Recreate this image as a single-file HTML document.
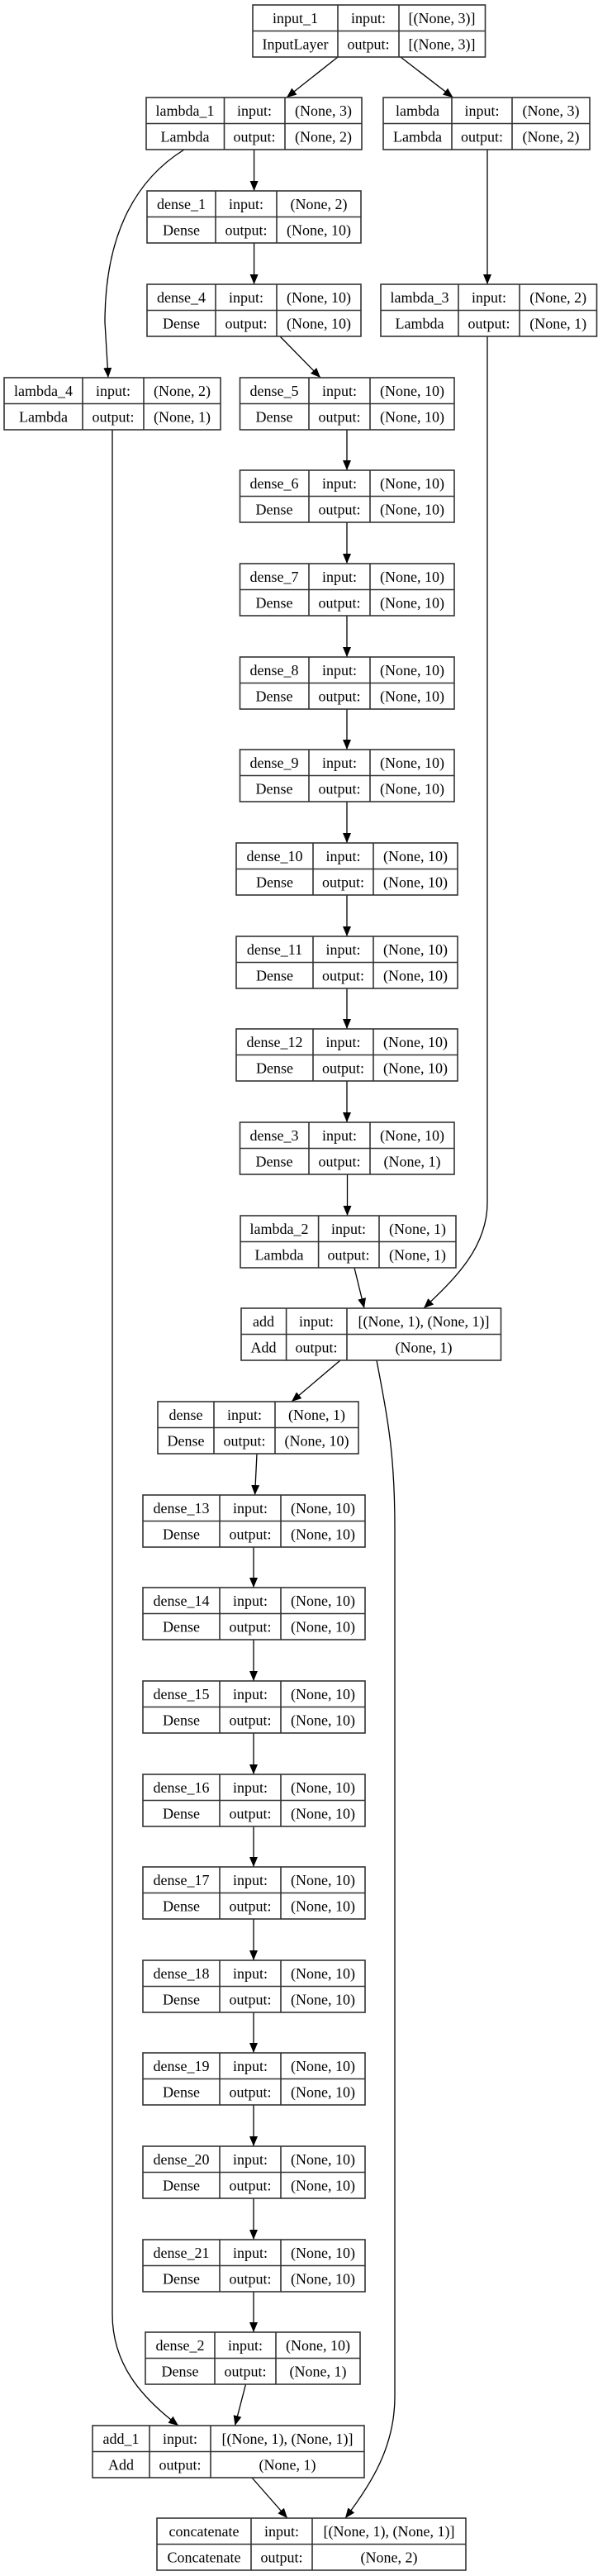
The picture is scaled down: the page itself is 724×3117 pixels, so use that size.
<!DOCTYPE html>
<html><head><meta charset="utf-8"><style>
html,body{margin:0;padding:0;background:#fff;}
svg{display:block;}
text{font-family:"Liberation Serif",serif;font-size:18px;text-anchor:middle;fill:#000;}
.b rect{fill:#fff;stroke:#333;stroke-width:1.6;}
.b path{stroke:#333;stroke-width:1.6;fill:none;}
.e{stroke:#000;stroke-width:1.3;fill:none;marker-end:url(#a);}
</style></head><body>
<svg width="724" height="3117" viewBox="0 0 724 3117" xmlns="http://www.w3.org/2000/svg">
<defs><marker id="a" markerWidth="12" markerHeight="10" refX="12" refY="5" orient="auto" markerUnits="userSpaceOnUse"><path d="M0,0 L12,5 L0,10z" fill="#000"/></marker></defs>

<!-- edges -->
<path class="e" d="M409,69 L347,118"/>
<path class="e" d="M485,69 L548.5,118"/>
<path class="e" d="M307.6,181 L307.6,231"/>
<path class="e" d="M223,181 C160,220 127,290 127,390 L131,457"/>
<path class="e" d="M307.6,294 L307.6,344"/>
<path class="e" d="M339,407 L388,457"/>
<path class="e" d="M590,181 L590,344"/>
<path class="e" d="M420,520 L420,569"/>
<path class="e" d="M420,632 L420,682"/>
<path class="e" d="M420,745 L420,795"/>
<path class="e" d="M420,858 L420,907"/>
<path class="e" d="M420,970 L420,1020"/>
<path class="e" d="M420,1083 L420,1133"/>
<path class="e" d="M420,1196 L420,1245"/>
<path class="e" d="M420,1308 L420,1358"/>
<path class="e" d="M420.5,1421 L420.5,1471"/>
<path class="e" d="M429,1534 L441,1583"/>
<path class="e" d="M590,407 L590,1455 C590,1510 550,1548 513,1583"/>
<path class="e" d="M412,1646 L353,1696"/>
<path class="e" d="M456,1646 C470,1720 478,1760 478,1850 L478,2900 C478,2960 450,3005 418,3047"/>
<path class="e" d="M136,520 L136,2800 C136,2860 170,2900 216,2935"/>
<path class="e" d="M311,1759 L308.6,1809"/>
<path class="e" d="M307,1872 L307,1921"/>
<path class="e" d="M307,1984 L307,2034"/>
<path class="e" d="M307,2097 L307,2147"/>
<path class="e" d="M307,2210 L307,2259"/>
<path class="e" d="M307,2322 L307,2372"/>
<path class="e" d="M307,2435 L307,2484"/>
<path class="e" d="M307,2547 L307,2597"/>
<path class="e" d="M307,2660 L307,2710"/>
<path class="e" d="M307,2773 L307,2822"/>
<path class="e" d="M297.5,2885 L284.5,2935"/>
<path class="e" d="M305,2998 L348,3047"/>

<!-- nodes -->
<g class="b"><rect x="306" y="6" width="281.5" height="63"/><path d="M306,37.5H587.5M409,6V69M483,6V69"/>
<text x="357.5" y="28">input_1</text><text x="357.5" y="59.5">InputLayer</text><text x="446" y="28">input:</text><text x="446" y="59.5">output:</text><text x="535" y="28">[(None, 3)]</text><text x="535" y="59.5">[(None, 3)]</text></g>

<g class="b"><rect x="177" y="118" width="261" height="63"/><path d="M177,149.5H438M271.5,118V181M345,118V181"/>
<text x="224" y="140">lambda_1</text><text x="224" y="171.5">Lambda</text><text x="308" y="140">input:</text><text x="308" y="171.5">output:</text><text x="391.5" y="140">(None, 3)</text><text x="391.5" y="171.5">(None, 2)</text></g>

<g class="b"><rect x="464" y="118" width="250" height="63"/><path d="M464,149.5H714M547,118V181M620,118V181"/>
<text x="505.5" y="140">lambda</text><text x="505.5" y="171.5">Lambda</text><text x="583.5" y="140">input:</text><text x="583.5" y="171.5">output:</text><text x="667" y="140">(None, 3)</text><text x="667" y="171.5">(None, 2)</text></g>

<g class="b"><rect x="178" y="231" width="259" height="63"/><path d="M178,262.5H437M261,231V294M335,231V294"/>
<text x="219.5" y="253">dense_1</text><text x="219.5" y="284.5">Dense</text><text x="298" y="253">input:</text><text x="298" y="284.5">output:</text><text x="386" y="253">(None, 2)</text><text x="386" y="284.5">(None, 10)</text></g>

<g class="b"><rect x="178" y="344" width="259" height="63"/><path d="M178,375.5H437M261,344V407M335,344V407"/>
<text x="219.5" y="366">dense_4</text><text x="219.5" y="397.5">Dense</text><text x="298" y="366">input:</text><text x="298" y="397.5">output:</text><text x="386" y="366">(None, 10)</text><text x="386" y="397.5">(None, 10)</text></g>

<g class="b"><rect x="461" y="344" width="261.5" height="63"/><path d="M461,375.5H722.5M555,344V407M629,344V407"/>
<text x="508" y="366">lambda_3</text><text x="508" y="397.5">Lambda</text><text x="592" y="366">input:</text><text x="592" y="397.5">output:</text><text x="675.7" y="366">(None, 2)</text><text x="675.7" y="397.5">(None, 1)</text></g>

<g class="b"><rect x="5" y="457" width="262" height="63"/><path d="M5,488.5H267M100,457V520M174,457V520"/>
<text x="52.5" y="479">lambda_4</text><text x="52.5" y="510.5">Lambda</text><text x="137" y="479">input:</text><text x="137" y="510.5">output:</text><text x="220.5" y="479">(None, 2)</text><text x="220.5" y="510.5">(None, 1)</text></g>

<g class="b"><rect x="290.5" y="457" width="259.5" height="63"/><path d="M290.5,488.5H550M374,457V520M448,457V520"/>
<text x="332" y="479">dense_5</text><text x="332" y="510.5">Dense</text><text x="411" y="479">input:</text><text x="411" y="510.5">output:</text><text x="499" y="479">(None, 10)</text><text x="499" y="510.5">(None, 10)</text></g>

<g class="b"><rect x="290.5" y="569" width="259.5" height="63"/><path d="M290.5,600.5H550M374,569V632M448,569V632"/>
<text x="332" y="591">dense_6</text><text x="332" y="622.5">Dense</text><text x="411" y="591">input:</text><text x="411" y="622.5">output:</text><text x="499" y="591">(None, 10)</text><text x="499" y="622.5">(None, 10)</text></g>

<g class="b"><rect x="290.5" y="682" width="259.5" height="63"/><path d="M290.5,713.5H550M374,682V745M448,682V745"/>
<text x="332" y="704">dense_7</text><text x="332" y="735.5">Dense</text><text x="411" y="704">input:</text><text x="411" y="735.5">output:</text><text x="499" y="704">(None, 10)</text><text x="499" y="735.5">(None, 10)</text></g>

<g class="b"><rect x="290.5" y="795" width="259.5" height="63"/><path d="M290.5,826.5H550M374,795V858M448,795V858"/>
<text x="332" y="817">dense_8</text><text x="332" y="848.5">Dense</text><text x="411" y="817">input:</text><text x="411" y="848.5">output:</text><text x="499" y="817">(None, 10)</text><text x="499" y="848.5">(None, 10)</text></g>

<g class="b"><rect x="290.5" y="907" width="259.5" height="63"/><path d="M290.5,938.5H550M374,907V970M448,907V970"/>
<text x="332" y="929">dense_9</text><text x="332" y="960.5">Dense</text><text x="411" y="929">input:</text><text x="411" y="960.5">output:</text><text x="499" y="929">(None, 10)</text><text x="499" y="960.5">(None, 10)</text></g>

<g class="b"><rect x="286" y="1020" width="268" height="63"/><path d="M286,1051.5H554M379,1020V1083M452,1020V1083"/>
<text x="332.5" y="1042">dense_10</text><text x="332.5" y="1073.5">Dense</text><text x="415.5" y="1042">input:</text><text x="415.5" y="1073.5">output:</text><text x="503" y="1042">(None, 10)</text><text x="503" y="1073.5">(None, 10)</text></g>

<g class="b"><rect x="286" y="1133" width="268" height="63"/><path d="M286,1164.5H554M379,1133V1196M452,1133V1196"/>
<text x="332.5" y="1155">dense_11</text><text x="332.5" y="1186.5">Dense</text><text x="415.5" y="1155">input:</text><text x="415.5" y="1186.5">output:</text><text x="503" y="1155">(None, 10)</text><text x="503" y="1186.5">(None, 10)</text></g>

<g class="b"><rect x="286" y="1245" width="268" height="63"/><path d="M286,1276.5H554M379,1245V1308M452,1245V1308"/>
<text x="332.5" y="1267">dense_12</text><text x="332.5" y="1298.5">Dense</text><text x="415.5" y="1267">input:</text><text x="415.5" y="1298.5">output:</text><text x="503" y="1267">(None, 10)</text><text x="503" y="1298.5">(None, 10)</text></g>

<g class="b"><rect x="290.5" y="1358" width="259.5" height="63"/><path d="M290.5,1389.5H550M374,1358V1421M448,1358V1421"/>
<text x="332" y="1380">dense_3</text><text x="332" y="1411.5">Dense</text><text x="411" y="1380">input:</text><text x="411" y="1411.5">output:</text><text x="499" y="1380">(None, 10)</text><text x="499" y="1411.5">(None, 1)</text></g>

<g class="b"><rect x="291" y="1471" width="261" height="63"/><path d="M291,1502.5H552M385.6,1471V1534M459,1471V1534"/>
<text x="338" y="1493">lambda_2</text><text x="338" y="1524.5">Lambda</text><text x="422" y="1493">input:</text><text x="422" y="1524.5">output:</text><text x="505.5" y="1493">(None, 1)</text><text x="505.5" y="1524.5">(None, 1)</text></g>

<g class="b"><rect x="292" y="1583" width="314.5" height="63"/><path d="M292,1614.5H606.5M346.6,1583V1646M420,1583V1646"/>
<text x="319" y="1605">add</text><text x="319" y="1636.5">Add</text><text x="383" y="1605">input:</text><text x="383" y="1636.5">output:</text><text x="513" y="1605">[(None, 1), (None, 1)]</text><text x="513" y="1636.5">(None, 1)</text></g>

<g class="b"><rect x="191" y="1696" width="243" height="63"/><path d="M191,1727.5H434M259,1696V1759M333,1696V1759"/>
<text x="225" y="1718">dense</text><text x="225" y="1749.5">Dense</text><text x="296" y="1718">input:</text><text x="296" y="1749.5">output:</text><text x="383.5" y="1718">(None, 1)</text><text x="383.5" y="1749.5">(None, 10)</text></g>

<g class="b"><rect x="173" y="1809" width="269" height="63"/><path d="M173,1840.5H442M266,1809V1872M340,1809V1872"/>
<text x="219.5" y="1831">dense_13</text><text x="219.5" y="1862.5">Dense</text><text x="303" y="1831">input:</text><text x="303" y="1862.5">output:</text><text x="391" y="1831">(None, 10)</text><text x="391" y="1862.5">(None, 10)</text></g>

<g class="b"><rect x="173" y="1921" width="269" height="63"/><path d="M173,1952.5H442M266,1921V1984M340,1921V1984"/>
<text x="219.5" y="1943">dense_14</text><text x="219.5" y="1974.5">Dense</text><text x="303" y="1943">input:</text><text x="303" y="1974.5">output:</text><text x="391" y="1943">(None, 10)</text><text x="391" y="1974.5">(None, 10)</text></g>

<g class="b"><rect x="173" y="2034" width="269" height="63"/><path d="M173,2065.5H442M266,2034V2097M340,2034V2097"/>
<text x="219.5" y="2056">dense_15</text><text x="219.5" y="2087.5">Dense</text><text x="303" y="2056">input:</text><text x="303" y="2087.5">output:</text><text x="391" y="2056">(None, 10)</text><text x="391" y="2087.5">(None, 10)</text></g>

<g class="b"><rect x="173" y="2147" width="269" height="63"/><path d="M173,2178.5H442M266,2147V2210M340,2147V2210"/>
<text x="219.5" y="2169">dense_16</text><text x="219.5" y="2200.5">Dense</text><text x="303" y="2169">input:</text><text x="303" y="2200.5">output:</text><text x="391" y="2169">(None, 10)</text><text x="391" y="2200.5">(None, 10)</text></g>

<g class="b"><rect x="173" y="2259" width="269" height="63"/><path d="M173,2290.5H442M266,2259V2322M340,2259V2322"/>
<text x="219.5" y="2281">dense_17</text><text x="219.5" y="2312.5">Dense</text><text x="303" y="2281">input:</text><text x="303" y="2312.5">output:</text><text x="391" y="2281">(None, 10)</text><text x="391" y="2312.5">(None, 10)</text></g>

<g class="b"><rect x="173" y="2372" width="269" height="63"/><path d="M173,2403.5H442M266,2372V2435M340,2372V2435"/>
<text x="219.5" y="2394">dense_18</text><text x="219.5" y="2425.5">Dense</text><text x="303" y="2394">input:</text><text x="303" y="2425.5">output:</text><text x="391" y="2394">(None, 10)</text><text x="391" y="2425.5">(None, 10)</text></g>

<g class="b"><rect x="173" y="2484" width="269" height="63"/><path d="M173,2515.5H442M266,2484V2547M340,2484V2547"/>
<text x="219.5" y="2506">dense_19</text><text x="219.5" y="2537.5">Dense</text><text x="303" y="2506">input:</text><text x="303" y="2537.5">output:</text><text x="391" y="2506">(None, 10)</text><text x="391" y="2537.5">(None, 10)</text></g>

<g class="b"><rect x="173" y="2597" width="269" height="63"/><path d="M173,2628.5H442M266,2597V2660M340,2597V2660"/>
<text x="219.5" y="2619">dense_20</text><text x="219.5" y="2650.5">Dense</text><text x="303" y="2619">input:</text><text x="303" y="2650.5">output:</text><text x="391" y="2619">(None, 10)</text><text x="391" y="2650.5">(None, 10)</text></g>

<g class="b"><rect x="173" y="2710" width="269" height="63"/><path d="M173,2741.5H442M266,2710V2773M340,2710V2773"/>
<text x="219.5" y="2732">dense_21</text><text x="219.5" y="2763.5">Dense</text><text x="303" y="2732">input:</text><text x="303" y="2763.5">output:</text><text x="391" y="2732">(None, 10)</text><text x="391" y="2763.5">(None, 10)</text></g>

<g class="b"><rect x="176" y="2822" width="260" height="63"/><path d="M176,2853.5H436M260,2822V2885M334,2822V2885"/>
<text x="218" y="2844">dense_2</text><text x="218" y="2875.5">Dense</text><text x="297" y="2844">input:</text><text x="297" y="2875.5">output:</text><text x="385" y="2844">(None, 10)</text><text x="385" y="2875.5">(None, 1)</text></g>

<g class="b"><rect x="112" y="2935" width="329" height="63"/><path d="M112,2966.5H441M181,2935V2998M255,2935V2998"/>
<text x="146.5" y="2957">add_1</text><text x="146.5" y="2988.5">Add</text><text x="218" y="2957">input:</text><text x="218" y="2988.5">output:</text><text x="348" y="2957">[(None, 1), (None, 1)]</text><text x="348" y="2988.5">(None, 1)</text></g>

<g class="b"><rect x="190" y="3047" width="374" height="63"/><path d="M190,3078.5H564M304,3047V3110M378,3047V3110"/>
<text x="247" y="3069">concatenate</text><text x="247" y="3100.5">Concatenate</text><text x="341" y="3069">input:</text><text x="341" y="3100.5">output:</text><text x="471" y="3069">[(None, 1), (None, 1)]</text><text x="471" y="3100.5">(None, 2)</text></g>
</svg>
</body></html>
